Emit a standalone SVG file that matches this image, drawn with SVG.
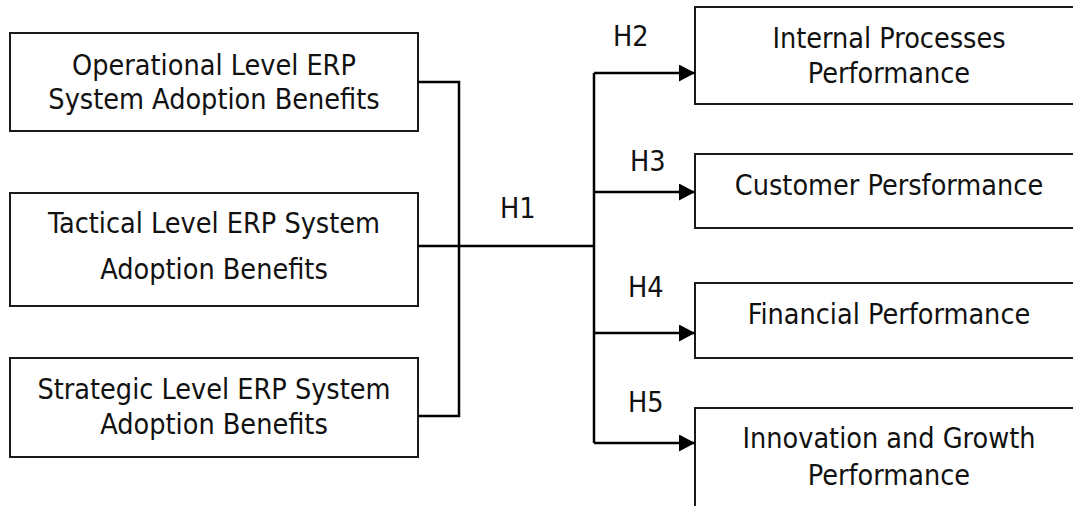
<svg xmlns="http://www.w3.org/2000/svg" width="1073" height="506" viewBox="0 0 1073 506">
  <style>
    .box { fill: #ffffff; stroke: #1a1a1a; stroke-width: 2; }
    .lbl { font-family: "DejaVu Sans Condensed", "DejaVu Sans", sans-serif; font-size: 28.5px; fill: #111111; }
    .mid { text-anchor: middle; }
    .wire { fill: none; stroke: #000000; stroke-width: 2.5; }
  </style>
  <defs>
    <marker id="arrow" markerUnits="userSpaceOnUse" markerWidth="17" markerHeight="18" refX="16" refY="8.5" orient="auto">
      <path d="M0,0 L16,8.5 L0,17 Z" fill="#000000"/>
    </marker>
  </defs>
  <rect width="1073" height="506" fill="#ffffff"/>

  <!-- adoption benefit levels -->
  <g id="operational">
    <rect class="box" x="10" y="33" width="408" height="98"/>
    <text class="lbl mid" x="214" y="75">Operational Level ERP</text>
    <text class="lbl mid" x="214" y="109">System Adoption Benefits</text>
  </g>
  <g id="tactical">
    <rect class="box" x="10" y="193" width="408" height="113"/>
    <text class="lbl mid" x="214" y="233">Tactical Level ERP System</text>
    <text class="lbl mid" x="214" y="279">Adoption Benefits</text>
  </g>
  <g id="strategic">
    <rect class="box" x="10" y="358" width="408" height="99"/>
    <text class="lbl mid" x="214" y="399">Strategic Level ERP System</text>
    <text class="lbl mid" x="214" y="434">Adoption Benefits</text>
  </g>

  <!-- performance outcomes -->
  <g id="internal">
    <rect class="box" x="695" y="7" width="392" height="97"/>
    <text class="lbl mid" x="889" y="48">Internal Processes</text>
    <text class="lbl mid" x="889" y="83">Performance</text>
  </g>
  <g id="customer">
    <rect class="box" x="695" y="154" width="392" height="74"/>
    <text class="lbl mid" x="889" y="195">Customer Persformance</text>
  </g>
  <g id="financial">
    <rect class="box" x="695" y="283" width="392" height="75"/>
    <text class="lbl mid" x="889" y="324">Financial Performance</text>
  </g>
  <g id="innovation">
    <rect class="box" x="695" y="408" width="392" height="120"/>
    <text class="lbl mid" x="889" y="448">Innovation and Growth</text>
    <text class="lbl mid" x="889" y="485">Performance</text>
  </g>

  <!-- connectors -->
  <g id="connectors">
    <path class="wire" d="M418,82 H459 V416 H418"/>
    <path class="wire" d="M418,246 H594"/>
    <path class="wire" d="M594,73 V443"/>
    <path class="wire" d="M594,73 H695" marker-end="url(#arrow)"/>
    <path class="wire" d="M594,192 H695" marker-end="url(#arrow)"/>
    <path class="wire" d="M594,333 H695" marker-end="url(#arrow)"/>
    <path class="wire" d="M594,443 H695" marker-end="url(#arrow)"/>
  </g>

  <!-- hypothesis labels -->
  <g id="hypotheses">
    <text class="lbl" x="500" y="218">H1</text>
    <text class="lbl" x="613" y="46">H2</text>
    <text class="lbl" x="630" y="171">H3</text>
    <text class="lbl" x="628" y="297">H4</text>
    <text class="lbl" x="628" y="412">H5</text>
  </g>
</svg>
